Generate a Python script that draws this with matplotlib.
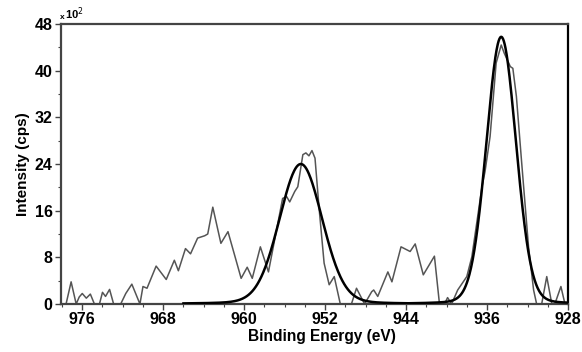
import numpy as np
import matplotlib
matplotlib.use("Agg")
import matplotlib.pyplot as plt
from matplotlib.ticker import MultipleLocator

plt.rcParams['font.family'] = ['Liberation Sans', 'DejaVu Sans']

# Raw spectrum (binding energy in eV, intensity in units of 10^2 cps)
raw_energy = [977.6, 977.1, 976.6, 976.3, 976.0, 975.6, 975.2, 974.8, 974.3, 974.0,
              973.7, 973.3, 972.9, 972.2, 971.7, 971.1, 970.3, 970.0, 969.6, 968.7,
              967.7, 966.9, 966.5, 965.8, 965.3, 964.6, 963.9, 963.6, 963.1, 962.3,
              961.6, 960.9, 960.3, 959.7, 959.2, 958.4, 957.6, 956.2, 955.8, 955.5,
              955.0, 954.7, 954.2, 953.9, 953.6, 953.3, 953.0, 952.6, 952.1, 951.6,
              951.1, 950.5, 949.4, 948.9, 948.1, 947.4, 947.2, 946.8, 945.8, 945.4,
              944.5, 943.6, 943.1, 942.3, 941.2, 940.7, 940.2, 939.9, 939.5, 938.9,
              938.0, 937.5, 936.5, 936.2, 935.7, 935.1, 934.6, 934.3, 933.7, 933.45,
              933.1, 932.6, 931.9, 931.4, 931.1, 930.6, 930.1, 929.6, 929.3, 928.7,
              928.3]
raw_intensity = [0.0, 3.8, 0.0, 1.2, 1.8, 1.0, 1.7, 0.0, 0.0, 2.0,
                 1.3, 2.5, 0.0, 0.0, 1.8, 3.4, 0.0, 3.0, 2.7, 6.5,
                 4.2, 7.5, 5.7, 9.5, 8.6, 11.3, 11.7, 12.0, 16.6, 10.4,
                 12.4, 8.1, 4.4, 6.3, 4.4, 9.8, 5.5, 18.1, 18.4, 17.5,
                 19.3, 20.1, 25.6, 25.9, 25.4, 26.3, 25.0, 16.5, 7.0, 3.3,
                 4.7, 0.0, 0.0, 2.7, 0.0, 2.1, 2.4, 1.3, 5.5, 3.8,
                 9.8, 9.0, 10.3, 5.0, 8.2, 0.0, 0.0, 1.1, 0.0, 2.4,
                 4.7, 8.1, 20.1, 22.7, 28.7, 41.3, 44.4, 43.0, 40.7, 40.4,
                 35.6, 24.7, 9.8, 2.4, 0.0, 0.0, 4.7, 0.0, 0.0, 3.0,
                 0.0]

# Fitted peaks (pseudo-Voigt parameters)
fit_center = [934.6, 954.4]
fit_height = [45.8, 24.0]
fit_fwhm = [3.45, 5.0]
fit_eta = [0.08, 0.1]
fit_start = [944.0, 966.0]
fit_end = [928.0, 942.0]

x_ticks = [976, 968, 960, 952, 944, 936, 928]
y_ticks = [0, 8, 16, 24, 32, 40, 48]

fig = plt.figure(figsize=(5.82, 3.52), dpi=100)
ax = fig.add_axes([61/582, 1-304/352, (568-61)/582, (304-24)/352])

ax.plot(raw_energy, raw_intensity, color='#555555', lw=1.1, solid_joinstyle='round', zorder=2)

for c, h, w, eta, s, e in zip(fit_center, fit_height, fit_fwhm, fit_eta, fit_start, fit_end):
    xx = np.linspace(s, e, 400)
    sig = w / 2.3548
    g = np.exp(-(xx - c) ** 2 / (2 * sig ** 2))
    lz = 1.0 / (1.0 + ((xx - c) / (w / 2)) ** 2)
    ax.plot(xx, h * ((1 - eta) * g + eta * lz), color='black', lw=1.8, zorder=3)

ax.set_xlim(978.1, 928)
ax.set_ylim(0, 48)
ax.set_xticks(x_ticks)
ax.set_yticks(y_ticks)
ax.xaxis.set_minor_locator(MultipleLocator(2))
ax.yaxis.set_minor_locator(MultipleLocator(4))
ax.tick_params(which='major', direction='out', length=4, width=1.0, color='#444444',
               labelsize=11.5, pad=2)
ax.tick_params(which='minor', direction='out', length=2.5, width=0.8, color='#444444')
for lab in ax.get_xticklabels() + ax.get_yticklabels():
    lab.set_fontweight('bold')

for sp in ax.spines.values():
    sp.set_color('#444444')
    sp.set_linewidth(1.6)
ax.spines['right'].set_color('black')

ax.set_xlabel('Binding Energy (eV)', fontsize=11.2, fontweight='bold')
ax.xaxis.set_label_coords(0.515, -0.09)
ax.xaxis.label.set_va('top')
ax.set_ylabel('Intensity (cps)', fontsize=11, fontweight='bold', labelpad=3)

fig.text(60/582, 1-19/352, 'x', fontsize=6, ha='left', va='baseline', fontweight='bold')
fig.text(65/582, 1-19/352, '10$^{2}$', fontsize=8, ha='left', va='baseline', fontweight='bold')

fig.savefig('out.png', dpi=100)
